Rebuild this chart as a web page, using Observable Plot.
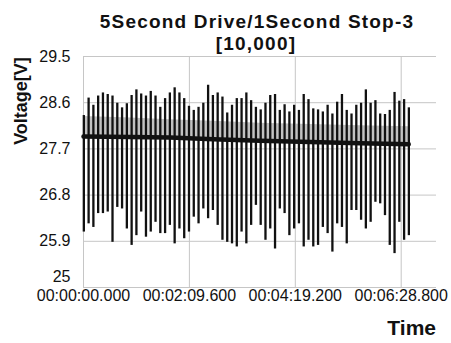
<!DOCTYPE html>
<html>
<head>
<meta charset="utf-8">
<script src="https://cdn.jsdelivr.net/npm/d3@7"></script>
<script src="https://cdn.jsdelivr.net/npm/@observablehq/plot@0.6"></script>
<style>
  html, body { margin: 0; padding: 0; background: #fff; }
  #chart { width: 451px; height: 343px; }
  svg { font-family: "Liberation Sans", Arial, sans-serif; }
</style>
</head>
<body>
<div id="chart"></div>
<script>
// ---- data ----
const titleLines = ["5Second Drive/1Second Stop-3", "[10,000]"];
const yLabel = "Voltage[V]";
const xLabel = "Time";
const yTicks = [25, 25.9, 26.8, 27.7, 28.6, 29.5];
const xTicks = [0, 129.6, 259.2, 388.8];        // seconds
const xMax = 432;                                // seconds (axis end)
const firstCycle = 0.4;                          // s
const cyclePeriod = 5.85;                        // s (drive + stop)

// peak voltage at each stop event (one per cycle)
const cycleHigh = [
  28.35, 28.69, 28.55, 28.73, 28.79, 28.76, 28.73, 28.59, 28.50, 28.58,
  28.74, 28.85, 28.77, 28.73, 28.82, 28.73, 28.51, 28.68, 28.79, 28.89,
  28.79, 28.68, 28.53, 28.45, 28.51, 28.59, 28.94, 28.74, 28.79, 28.71,
  28.40, 28.55, 28.68, 28.68, 28.79, 28.64, 28.51, 28.46, 28.59, 28.74,
  28.76, 28.45, 28.56, 28.42, 28.55, 28.45, 28.76, 28.66, 28.48, 28.46,
  28.42, 28.55, 28.38, 28.61, 28.76, 28.45, 28.38, 28.55, 28.59, 28.85,
  28.59, 28.64, 28.38, 28.37, 28.45, 28.80, 28.63, 28.66, 28.50
];
// dip voltage at each drive start (one per cycle)
const cycleLow = [
  26.08, 26.24, 26.17, 26.44, 26.44, 26.47, 25.88, 26.56, 26.53, 26.14,
  25.82, 26.01, 26.47, 25.98, 26.08, 26.27, 26.05, 26.05, 26.21, 25.85,
  26.14, 25.95, 26.08, 26.37, 26.24, 26.53, 26.34, 26.50, 26.21, 25.92,
  25.88, 25.85, 25.79, 26.08, 25.85, 26.21, 26.60, 26.21, 25.92, 26.14,
  25.75, 26.53, 26.44, 26.01, 26.14, 26.24, 25.79, 25.92, 25.79, 25.82,
  26.17, 26.05, 25.69, 26.24, 26.17, 25.85, 26.50, 26.50, 26.31, 26.14,
  26.27, 26.66, 26.63, 26.40, 25.82, 25.66, 26.27, 25.92, 26.01
];
// steady running voltage (thick trace) and the upper edge of the noise band
const steadyTime  = [0, 57.5, 106, 159, 216, 265, 339, 398];
const steadyLevel = [27.94, 27.93, 27.92, 27.89, 27.86, 27.84, 27.81, 27.79];
const noiseTop    = [28.33, 28.30, 28.27, 28.24, 28.20, 28.18, 28.15, 28.13];

// ---- tables built from the arrays ----
const cycles = cycleHigh.map((h, i) => ({t: firstCycle + i * cyclePeriod, high: h, low: cycleLow[i]}));
const steady = steadyTime.map((t, i) => ({t, v: steadyLevel[i], top: noiseTop[i]}));

const pad = n => String(n).padStart(2, "0");
const fmtTime = s => {
  const h = Math.floor(s / 3600), m = Math.floor((s % 3600) / 60);
  const sec = (s - h * 3600 - m * 60).toFixed(3).padStart(6, "0");
  return `${pad(h)}:${pad(m)}:${sec}`;
};
const fmtV = d => d === 25 ? "25" : d.toFixed(1);

const gridColor = "#c6c6c6";
const ink = "#111";

const plot = Plot.plot({
  width: 451,
  height: 343,
  marginLeft: 83,
  marginRight: 15,
  marginTop: 56,
  marginBottom: 56,
  style: {fontFamily: "'Liberation Sans', Arial, sans-serif", fontSize: "16px", color: ink, background: "#fff"},
  x: {domain: [0, xMax], nice: false},
  y: {domain: [25, 29.5], nice: false},
  marks: [
    Plot.gridY(yTicks, {stroke: gridColor, strokeOpacity: 1}),
    Plot.gridX(xTicks, {stroke: gridColor, strokeOpacity: 1}),
    Plot.areaY(steady, {x: "t", y1: "v", y2: "top", fill: "#c2c2c2", fillOpacity: 1}),
    Plot.ruleX(cycles, {x: "t", y1: "low", y2: "high", stroke: ink, strokeWidth: 2.3}),
    Plot.line(steady, {x: "t", y: "v", stroke: ink, strokeWidth: 4.5}),
    Plot.axisY(yTicks.filter(d => d !== 25), {tickSize: 0, tickPadding: 13, tickFormat: fmtV, label: null, fontSize: 16}),
    Plot.axisY([25], {tickSize: 0, tickPadding: 13, tickFormat: fmtV, label: null, dy: -11, fontSize: 16}),
    Plot.axisX(xTicks, {tickSize: 0, tickPadding: 2, tickFormat: fmtTime, label: null, fontSize: 16})
  ]
});
document.getElementById("chart").appendChild(plot);

// titles and axis names as real SVG text
const svg = d3.select(plot);
const txt = svg.append("g").attr("fill", ink).attr("font-family", "'Liberation Sans', Arial, sans-serif");
txt.append("text").attr("x", 257).attr("y", 28).attr("text-anchor", "middle")
  .attr("font-size", 19).attr("font-weight", "bold").attr("letter-spacing", 1.2).text(titleLines[0]);
txt.append("text").attr("x", 256).attr("y", 50).attr("text-anchor", "middle")
  .attr("font-size", 19).attr("font-weight", "bold").attr("letter-spacing", 1.2).text(titleLines[1]);
txt.append("text").attr("transform", "translate(27,101) rotate(-90)").attr("text-anchor", "middle")
  .attr("font-size", 18).attr("font-weight", "bold").text(yLabel);
txt.append("text").attr("x", 436).attr("y", 335).attr("text-anchor", "end")
  .attr("font-size", 21).attr("font-weight", "bold").text(xLabel);
</script>
</body>
</html>
